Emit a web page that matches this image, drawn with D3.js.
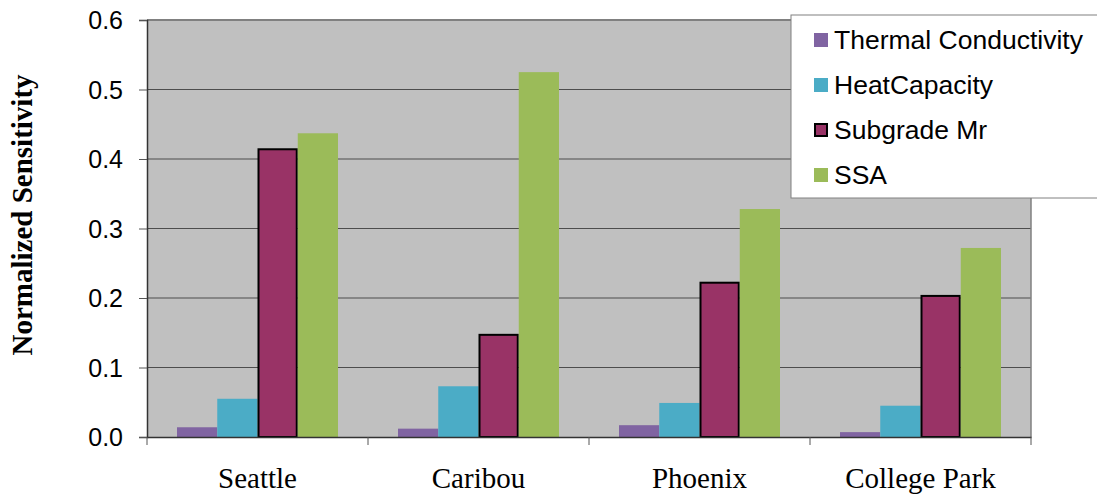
<!DOCTYPE html>
<html>
<head>
<meta charset="utf-8">
<script src="https://cdn.jsdelivr.net/npm/d3@7"></script>
<style>
  html, body { margin: 0; padding: 0; background: #fff; }
  svg { display: block; }
</style>
</head>
<body>
<svg id="chart" width="1097" height="498"></svg>
<script>
// Sensitivity by site and input parameter
const sites = ["Seattle", "Caribou", "Phoenix", "College Park"];
const seriesNames = ["Thermal Conductivity", "HeatCapacity", "Subgrade Mr", "SSA"];
const thermalConductivity = [0.014, 0.012, 0.017, 0.007];
const heatCapacity = [0.055, 0.073, 0.049, 0.045];
const subgradeMr = [0.414, 0.147, 0.222, 0.203];
const ssa = [0.437, 0.525, 0.328, 0.272];
const yTicks = [0.0, 0.1, 0.2, 0.3, 0.4, 0.5, 0.6];

const seriesValues = [thermalConductivity, heatCapacity, subgradeMr, ssa];
const colors = ["#8064A2", "#4BACC6", "#993366", "#9BBB59"];
const outlined = [false, false, true, false];

const svg = d3.select("#chart");
const plot = { left: 147, top: 20, right: 1031, bottom: 437 };

const x0 = d3.scaleBand().domain(sites).range([plot.left, plot.right]).paddingInner(0).paddingOuter(0);
const groupPad = 30;
const x1 = d3.scaleBand().domain(seriesNames)
  .range([groupPad, x0.bandwidth() - groupPad]).padding(0);
const y = d3.scaleLinear().domain([0, 0.6]).range([plot.bottom, plot.top]);

// plot area background
svg.append("rect")
  .attr("x", plot.left).attr("y", plot.top)
  .attr("width", plot.right - plot.left).attr("height", plot.bottom - plot.top)
  .attr("fill", "#C0C0C0");

// horizontal gridlines
svg.append("g").selectAll("line").data(yTicks.filter(d => d > 0 && d < 0.6)).join("line")
  .attr("x1", plot.left).attr("x2", plot.right)
  .attr("y1", d => y(d)).attr("y2", d => y(d))
  .attr("stroke", "#4d4d4d").attr("stroke-width", 1);

// plot frame: top and right in gray
svg.append("line").attr("x1", plot.left).attr("x2", plot.right)
  .attr("y1", plot.top).attr("y2", plot.top)
  .attr("stroke", "#808080").attr("stroke-width", 2);
svg.append("line").attr("x1", plot.right).attr("x2", plot.right)
  .attr("y1", plot.top).attr("y2", plot.bottom)
  .attr("stroke", "#808080").attr("stroke-width", 1.5);

// bars
const groups = svg.append("g").selectAll("g").data(sites).join("g")
  .attr("transform", d => `translate(${x0(d)},0)`);
groups.selectAll("rect")
  .data((site, i) => seriesNames.map((name, s) => ({ name, s, v: seriesValues[s][i] })))
  .join("rect")
  .attr("x", d => x1(d.name) + (outlined[d.s] ? 1 : 0))
  .attr("width", d => x1.bandwidth() - (outlined[d.s] ? 2 : 0))
  .attr("y", d => y(d.v))
  .attr("height", d => y(0) - y(d.v))
  .attr("fill", d => colors[d.s])
  .attr("stroke", d => outlined[d.s] ? "#000" : "none")
  .attr("stroke-width", 2);

// y axis
const yAxis = d3.axisLeft(y).tickValues(yTicks).tickFormat(d3.format(".1f"))
  .tickSize(8).tickPadding(16);
const yg = svg.append("g").attr("transform", `translate(${plot.left},0)`).call(yAxis);
yg.select(".domain").attr("stroke", "#333").attr("stroke-width", 1.5);
yg.selectAll(".tick line").attr("stroke", "#555");
yg.selectAll("text").attr("font-family", "Liberation Sans, Arial, sans-serif")
  .attr("font-size", 25).attr("fill", "#000").attr("dy", "0.35em");

// x axis
const xAxis = d3.axisBottom(x0).tickSize(0).tickPadding(30);
const xg = svg.append("g").attr("transform", `translate(0,${plot.bottom})`).call(xAxis);
xg.select(".domain").attr("stroke", "#333").attr("stroke-width", 1.5);
xg.selectAll("text").attr("font-family", "Liberation Serif, Times New Roman, serif")
  .attr("font-size", 29).attr("fill", "#000");
// category separators below the axis
svg.append("g").selectAll("line").data(d3.range(sites.length + 1)).join("line")
  .attr("x1", i => plot.left + i * x0.bandwidth())
  .attr("x2", i => plot.left + i * x0.bandwidth())
  .attr("y1", plot.bottom).attr("y2", plot.bottom + 8)
  .attr("stroke", "#555");

// y axis title
svg.append("text")
  .attr("transform", `translate(32,215) rotate(-90)`)
  .attr("text-anchor", "middle")
  .attr("font-family", "Liberation Serif, Times New Roman, serif")
  .attr("font-weight", "bold").attr("font-size", 29)
  .text("Normalized Sensitivity");

// legend
const legend = svg.append("g");
legend.append("rect")
  .attr("x", 791).attr("y", 15).attr("width", 320).attr("height", 183)
  .attr("fill", "#fff").attr("stroke", "#808080").attr("stroke-width", 1);
const items = legend.selectAll("g.item").data(seriesNames).join("g")
  .attr("class", "item")
  .attr("transform", (d, i) => `translate(814,${40 + i * 45})`);
items.append("rect")
  .attr("x", (d, i) => outlined[i] ? 1 : 0)
  .attr("y", (d, i) => -7 + (outlined[i] ? 1 : 0))
  .attr("width", (d, i) => outlined[i] ? 12 : 14)
  .attr("height", (d, i) => outlined[i] ? 12 : 14)
  .attr("fill", (d, i) => colors[i])
  .attr("stroke", (d, i) => outlined[i] ? "#000" : "none")
  .attr("stroke-width", 2);
items.append("text")
  .attr("x", 20).attr("dy", "0.35em")
  .attr("font-family", "Liberation Sans, Arial, sans-serif")
  .attr("font-size", 26.5).attr("fill", "#000")
  .text(d => d);
</script>
</body>
</html>
